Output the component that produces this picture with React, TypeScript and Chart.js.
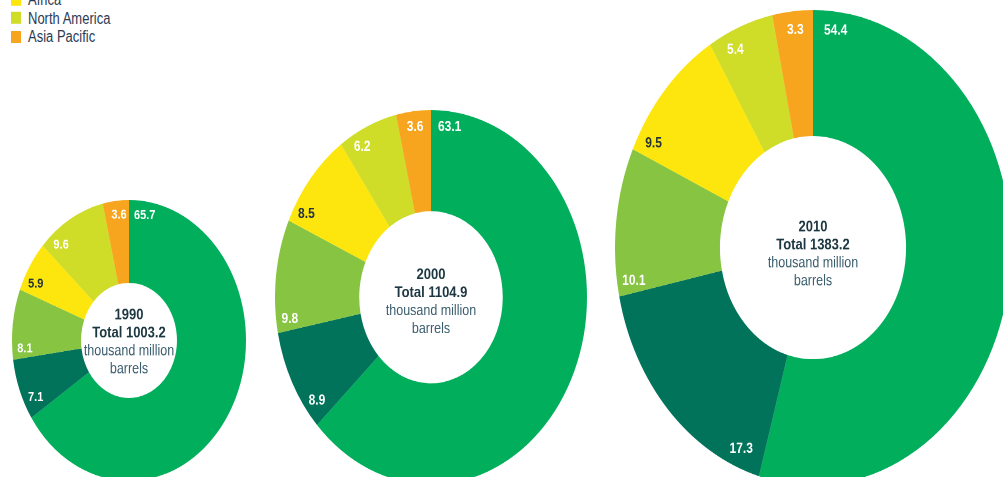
import React, { useEffect, useRef } from 'react';
import { Chart, registerables } from 'chart.js';

Chart.register(...registerables);

// ---- data ----
const regions = ['Middle East', 'S. & Cent. America', 'Europe & Eurasia', 'Africa', 'North America', 'Asia Pacific'];
const years = ['1990', '2000', '2010'];
const share1990 = [65.7, 7.1, 8.1, 5.9, 9.6, 3.6];
const share2000 = [63.1, 8.9, 9.8, 8.5, 6.2, 3.6];
const share2010 = [54.4, 17.3, 10.1, 9.5, 5.4, 3.3];
const totals = [1003.2, 1104.9, 1383.2];
const unitLines = ['thousand million', 'barrels'];

// ---- styles ----
const regionColors = ['#00ae5c', '#00735a', '#86c441', '#fde50e', '#cfdc28', '#f7a51f'];
const labelTextColors = ['#ffffff', '#ffffff', '#ffffff', '#24343c', '#ffffff', '#ffffff'];
const SCALE_Y = 1.2;
const FONT = '"Liberation Sans", Arial, sans-serif';

type Layout = {
  left: number; top: number; size: number; cutout: string;
  font: number; inset: number; padX: number; padY: number; shift: number;
};

const layouts: Layout[] = [
  { left: 11.5, top: 200, size: 234, cutout: '41%', font: 11, inset: 13, padX: 5, padY: 2, shift: 1.3 },
  { left: 275, top: 110, size: 312, cutout: '46%', font: 12, inset: 14, padX: 7, padY: 2, shift: 4 },
  { left: 615, top: 10, size: 396, cutout: '47%', font: 12, inset: 17, padX: 11, padY: 1, shift: 5.5 },
];

function Donut({ values, year, total, layout }: { values: number[]; year: string; total: number; layout: Layout }) {
  const ref = useRef<HTMLCanvasElement>(null);
  useEffect(() => {
    if (!ref.current) return;
    const labelPlugin = {
      id: 'sliceLabels',
      afterDatasetsDraw(chart: any) {
        const ctx = chart.ctx as CanvasRenderingContext2D;
        const meta = chart.getDatasetMeta(0);
        ctx.save();
        ctx.font = `bold ${layout.font}px ${FONT}`;
        ctx.textAlign = 'center';
        ctx.textBaseline = 'middle';
        meta.data.forEach((arc: any, i: number) => {
          const { x, y, startAngle, outerRadius } = arc.getProps(['x', 'y', 'startAngle', 'outerRadius'], true);
          const txt = values[i].toFixed(1);
          const w = ctx.measureText(txt).width;
          const h = layout.font * 0.72;
          const sa = Math.sin(startAngle);
          const ca = Math.cos(startAngle);
          const r = outerRadius - layout.inset;
          const d = Math.abs(sa) * (w / 2 + layout.padX) + Math.abs(ca) * (h / 2 + layout.padY);
          const px = x + r * ca - d * sa;
          const py = y + r * sa + d * ca;
          ctx.fillStyle = labelTextColors[i];
          ctx.fillText(txt, px, py);
        });
        const cx = meta.data[0].x;
        const cy = meta.data[0].y + layout.shift;
        const lines = [
          { t: year, f: `bold 13px ${FONT}`, c: '#1c3742' },
          { t: `Total ${total.toFixed(1)}`, f: `bold 13px ${FONT}`, c: '#1c3742' },
          { t: unitLines[0], f: `12.5px ${FONT}`, c: '#3a5d6e' },
          { t: unitLines[1], f: `12.5px ${FONT}`, c: '#3a5d6e' },
        ];
        lines.forEach((l, i) => {
          ctx.font = l.f;
          ctx.fillStyle = l.c;
          ctx.fillText(l.t, cx, cy + (i - 1.5) * 15);
        });
        ctx.restore();
      },
    };
    const chart = new Chart(ref.current, {
      type: 'doughnut',
      data: {
        labels: regions,
        datasets: [{
          data: values,
          backgroundColor: regionColors,
          borderWidth: 0,
          hoverOffset: 0,
        }],
      },
      options: {
        responsive: false,
        devicePixelRatio: 2,
        animation: false,
        cutout: layout.cutout,
        events: [],
        layout: { padding: 0 },
        plugins: { legend: { display: false }, tooltip: { enabled: false }, title: { display: false } },
      } as any,
      plugins: [labelPlugin],
    });
    return () => chart.destroy();
  }, []);
  return (
    <div style={{
      position: 'absolute', left: layout.left, top: layout.top, width: layout.size, height: layout.size,
      transform: `scaleY(${SCALE_Y})`, transformOrigin: 'top left',
    }}>
      <canvas ref={ref} width={layout.size} height={layout.size} style={{ width: layout.size, height: layout.size, display: 'block' }} />
    </div>
  );
}

export default function App() {
  const series = [share1990, share2000, share2010];
  return (
    <div style={{ position: 'fixed', left: 0, top: 0, width: 1003, height: 477, overflow: 'hidden', background: '#ffffff' }}>
      <div style={{ position: 'absolute', left: 11, top: -65.3, transform: `scaleY(${SCALE_Y})`, transformOrigin: 'top left' }}>
        {regions.map((r, i) => (
          <div key={r} style={{ display: 'flex', alignItems: 'center', height: 15.4 }}>
            <span style={{ display: 'inline-block', width: 10, height: 10, background: regionColors[i], marginRight: 7 }} />
            <span style={{ font: `13px ${FONT}`, color: '#2c3a55', whiteSpace: 'nowrap', lineHeight: '15px' }}>{r}</span>
          </div>
        ))}
      </div>
      {series.map((s, i) => (
        <Donut key={years[i]} values={s} year={years[i]} total={totals[i]} layout={layouts[i]} />
      ))}
    </div>
  );
}
